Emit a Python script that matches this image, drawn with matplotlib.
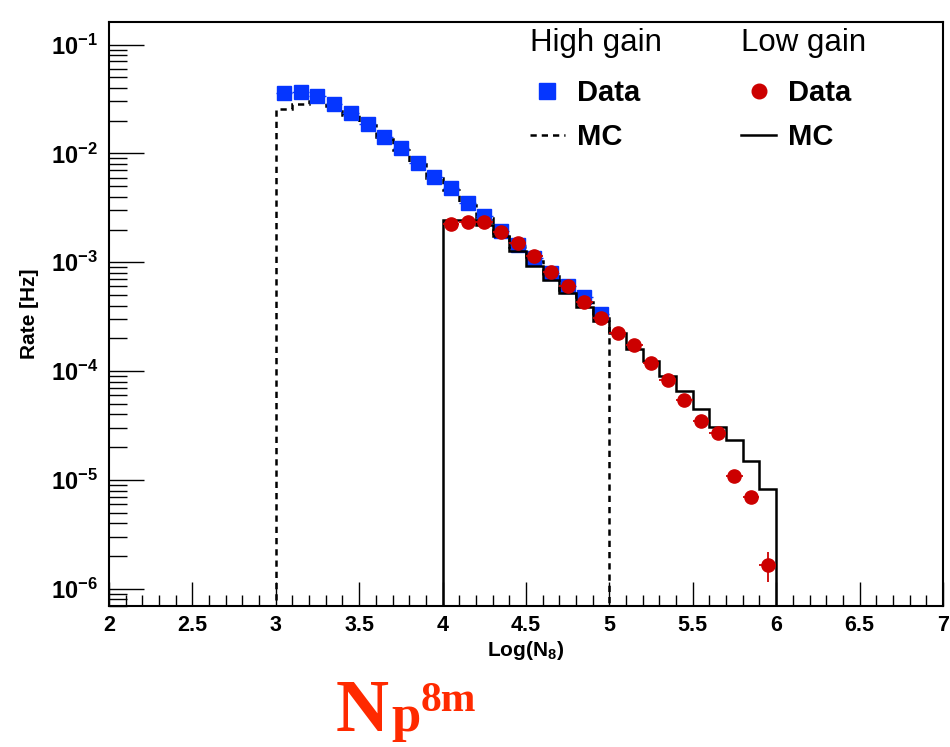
import numpy as np
import matplotlib
matplotlib.use('Agg')
import matplotlib.pyplot as plt
from matplotlib.lines import Line2D
from matplotlib.ticker import MultipleLocator, LogLocator, NullFormatter

plt.rcParams['font.family'] = ['Liberation Sans', 'DejaVu Sans']
plt.rcParams['mathtext.fontset'] = 'custom'
plt.rcParams['mathtext.rm'] = 'Liberation Sans:bold'
plt.rcParams['mathtext.bf'] = 'Liberation Sans:bold'
plt.rcParams['mathtext.it'] = 'Liberation Sans:bold:italic'

# --- data ---
# high gain: bins 3.0 .. 5.0
hg_x = [3.05, 3.15, 3.25, 3.35, 3.45, 3.55, 3.65, 3.75, 3.85, 3.95,
        4.05, 4.15, 4.25, 4.35, 4.45, 4.55, 4.65, 4.75, 4.85, 4.95]
hg_data = [3.59e-2, 3.67e-2, 3.34e-2, 2.86e-2, 2.33e-2, 1.88e-2, 1.42e-2, 1.11e-2, 8.24e-3, 6.13e-3,
           4.77e-3, 3.47e-3, 2.64e-3, 1.95e-3, 1.44e-3, 1.09e-3, 7.91e-4, 6.04e-4, 4.81e-4, 3.34e-4]
hg_mc = [2.55e-2, 2.85e-2, 3.04e-2, 2.74e-2, 2.24e-2, 1.81e-2, 1.36e-2, 1.07e-2, 7.94e-3, 5.90e-3,
         4.63e-3, 3.37e-3, 2.54e-3, 1.87e-3, 1.37e-3, 1.03e-3, 7.52e-4, 5.59e-4, 4.34e-4, 3.09e-4]

# low gain: bins 4.0 .. 6.0
lg_x = [4.05, 4.15, 4.25, 4.35, 4.45, 4.55, 4.65, 4.75, 4.85, 4.95,
        5.05, 5.15, 5.25, 5.35, 5.45, 5.55, 5.65, 5.75, 5.85, 5.95]
lg_data = [2.23e-3, 2.36e-3, 2.33e-3, 1.91e-3, 1.49e-3, 1.15e-3, 8.18e-4, 6.04e-4, 4.30e-4, 3.06e-4,
           2.25e-4, 1.73e-4, 1.20e-4, 8.35e-5, 5.47e-5, 3.52e-5, 2.69e-5, 1.10e-5, 7.03e-6, 1.66e-6]
lg_err = [2e-5, 2e-5, 2e-5, 2e-5, 1.5e-5, 1.2e-5, 1e-5, 8e-6, 6e-6, 5e-6,
          4e-6, 3.5e-6, 3e-6, 2.5e-6, 2e-6, 1.6e-6, 1.4e-6, 9e-7, 7e-7, 5e-7]
lg_mc = [2.42e-3, 2.43e-3, 2.18e-3, 1.75e-3, 1.28e-3, 9.29e-4, 6.90e-4, 5.21e-4, 3.85e-4, 2.90e-4,
         2.24e-4, 1.60e-4, 1.23e-4, 8.94e-5, 6.51e-5, 4.49e-5, 3.10e-5, 2.34e-5, 1.51e-5, 8.27e-6]

ymin, ymax = 7.0e-7, 0.161
edges = np.round(np.arange(2.0, 7.0001, 0.1), 2)

def full_hist(first_center, vals):
    # ROOT draws empty bins on the bottom of the frame
    out = np.full(len(edges) - 1, ymin)
    i0 = int(round((first_center - 0.05 - 2.0) / 0.1))
    out[i0:i0 + len(vals)] = vals
    return out

blue = '#0536ff'
red = '#cc0000'

fig = plt.figure(figsize=(9.5, 7.47), dpi=100)
ax = fig.add_axes([0.1147, 0.1891, 0.8779, 0.7814])

ax.stairs(full_hist(hg_x[0], hg_mc), edges, color='black', lw=1.8,
          linestyle=(0, (2.5, 2)), zorder=2)
ax.errorbar(hg_x, hg_data, xerr=0.05, yerr=np.array(hg_data) * 0.01, fmt='s', color=blue,
            ms=10, elinewidth=1, capsize=0, zorder=3)
ax.stairs(full_hist(lg_x[0], lg_mc), edges, color='black', lw=1.8, zorder=4)
ax.errorbar(lg_x, lg_data, xerr=0.05, yerr=lg_err, fmt='o', color=red,
            ms=9.5, elinewidth=1.3, capsize=0, zorder=5)

ax.set_yscale('log')
ax.set_xlim(2, 7)
ax.set_ylim(ymin, ymax)

ax.xaxis.set_major_locator(MultipleLocator(0.5))
ax.xaxis.set_minor_locator(MultipleLocator(0.1))
ax.set_xticks([2, 2.5, 3, 3.5, 4, 4.5, 5, 5.5, 6, 6.5, 7])
ax.set_xticklabels(['2', '2.5', '3', '3.5', '4', '4.5', '5', '5.5', '6', '6.5', '7'],
                   fontweight='bold')
ydec = [1e-6, 1e-5, 1e-4, 1e-3, 1e-2, 1e-1]
ax.set_yticks(ydec)
ax.set_yticklabels([r'$\mathbf{10^{-%d}}$' % k for k in [6, 5, 4, 3, 2, 1]])
ax.yaxis.set_minor_locator(LogLocator(base=10, subs=np.arange(2, 10), numticks=20))
ax.yaxis.set_minor_formatter(NullFormatter())
ax.tick_params(axis='both', which='both', direction='in', top=False, right=False, width=1)
ax.tick_params(axis='x', which='major', length=17, labelsize=15.5, pad=7)
ax.tick_params(axis='x', which='minor', length=8)
ax.tick_params(axis='y', which='major', length=25, labelsize=17, pad=8)
ax.tick_params(axis='y', which='minor', length=13)
for s in ax.spines.values():
    s.set_linewidth(1.5)

ax.set_xlabel(r'Log(N$_{\mathbf{8}}$)', fontsize=15, fontweight='bold', labelpad=2)
ax.set_ylabel('Rate [Hz]', fontsize=15, fontweight='bold', labelpad=8)

# legends, one column per gain
h_data_hg = Line2D([], [], marker='s', color=blue, ms=11, linestyle='none')
h_mc_hg = Line2D([], [], color='black', lw=1.8, linestyle=(0, (2.5, 2)))
h_data_lg = Line2D([], [], marker='o', color=red, ms=10.5, linestyle='none')
h_mc_lg = Line2D([], [], color='black', lw=1.8)

leg_kw = dict(frameon=False, loc='upper left', prop={'weight': 'bold', 'size': 21},
              title_fontproperties={'size': 22.5}, handlelength=1.2, handletextpad=0.4,
              labelspacing=0.55, borderpad=0, borderaxespad=0, alignment='left')
leg1 = ax.legend([h_data_hg, h_mc_hg], ['Data', 'MC'], title='High gain',
                 bbox_to_anchor=(0.5048, 0.989), **leg_kw)
leg1._legend_box.sep = 15
ax.add_artist(leg1)
leg2 = ax.legend([h_data_lg, h_mc_lg], ['Data', 'MC'], title='Low gain',
                 bbox_to_anchor=(0.758, 0.989), **leg_kw)
leg2._legend_box.sep = 15

# label below the plot
lab_col = '#ff2a00'
fig.text(336 / 950, 1 - 731 / 747, 'N', family='Liberation Serif', fontweight='bold',
         fontsize=53, color=lab_col, va='baseline', ha='left')
fig.text(391 / 950, 1 - 731 / 747, 'p', family='Liberation Serif', fontweight='bold',
         fontsize=38, color=lab_col, va='baseline', ha='left')
fig.text(421 / 950, 1 - 711 / 747, '8m', family='Liberation Serif', fontweight='bold',
         fontsize=30, color=lab_col, va='baseline', ha='left')

fig.savefig('out.png', dpi=100)
